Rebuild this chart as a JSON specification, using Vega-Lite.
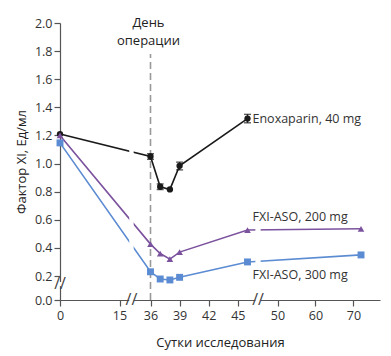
{
  "$schema": "https://vega.github.io/schema/vega-lite/v6.json",
  "width": 320,
  "height": 277,
  "autosize": "none",
  "padding": {"left": 60, "top": 23, "right": 11, "bottom": 56},
  "background": "white",
  "config": {
    "view": {"stroke": null},
    "font": "Open Sans",
    "axis": {
      "domainColor": "#555",
      "tickColor": "#555",
      "labelColor": "#333",
      "titleColor": "#222",
      "labelFontSize": 12.5,
      "titleFontSize": 13,
      "titleFontWeight": "normal",
      "grid": false,
      "tickSize": 6,
      "domainWidth": 1.2,
      "tickWidth": 1.2,
      "labelFlush": false
    }
  },
  "datasets": {
    "pts": [
      {"series": "Enoxaparin", "day": 0, "v": 1.21},
      {"series": "Enoxaparin", "day": 36, "v": 1.05, "lo": 1.03, "hi": 1.07},
      {"series": "Enoxaparin", "day": 37, "v": 0.835, "lo": 0.815, "hi": 0.855},
      {"series": "Enoxaparin", "day": 38, "v": 0.816},
      {"series": "Enoxaparin", "day": 39, "v": 0.984, "lo": 0.955, "hi": 1.01},
      {"series": "Enoxaparin", "day": 46, "v": 1.32, "lo": 1.29, "hi": 1.35},
      {"series": "FXI-ASO 200", "day": 0, "v": 1.2},
      {"series": "FXI-ASO 200", "day": 36, "v": 0.427},
      {"series": "FXI-ASO 200", "day": 37, "v": 0.36},
      {"series": "FXI-ASO 200", "day": 38, "v": 0.32},
      {"series": "FXI-ASO 200", "day": 39, "v": 0.37},
      {"series": "FXI-ASO 200", "day": 46, "v": 0.527},
      {"series": "FXI-ASO 200", "day": 72, "v": 0.536},
      {"series": "FXI-ASO 300", "day": 0, "v": 1.147},
      {"series": "FXI-ASO 300", "day": 36, "v": 0.23},
      {"series": "FXI-ASO 300", "day": 37, "v": 0.175},
      {"series": "FXI-ASO 300", "day": 38, "v": 0.167},
      {"series": "FXI-ASO 300", "day": 39, "v": 0.189},
      {"series": "FXI-ASO 300", "day": 46, "v": 0.3},
      {"series": "FXI-ASO 300", "day": 72, "v": 0.35}
    ]
  },
  "encoding": {
    "x": {
      "field": "day",
      "type": "quantitative",
      "scale": {"domain": [0, 15, 36, 46, 50, 77], "range": [0, 59.5, 90.5, 187.5, 217.5, 320], "nice": false, "zero": false},
      "axis": {"values": [0, 15, 36, 39, 42, 45, 50, 60, 70], "title": "Сутки исследования", "titlePadding": 15, "labelPadding": 3}
    },
    "y": {
      "field": "v",
      "type": "quantitative",
      "scale": {"domain": [0, 0.2, 2.0], "range": [277, 253, 0], "nice": false, "zero": false},
      "axis": {"values": [0, 0.2, 0.4, 0.6, 0.8, 1.0, 1.2, 1.4, 1.6, 1.8, 2.0], "format": ".1f", "title": "Фактор XI, Ед/мл", "titlePadding": 6, "labelPadding": 2}
    }
  },
  "layer": [
    {
      "data": {"values": [{"day": 36, "v": 0, "v2": 1.78}]},
      "mark": {"type": "rule", "strokeDash": [7, 4], "color": "#999", "strokeWidth": 1.6},
      "encoding": {"y2": {"field": "v2"}}
    },
    {
      "data": {"name": "pts"},
      "mark": {"type": "line", "strokeWidth": 1.6},
      "encoding": {
        "color": {"field": "series", "type": "nominal", "scale": {"domain": ["Enoxaparin", "FXI-ASO 200", "FXI-ASO 300"], "range": ["#1a1a1a", "#7b529e", "#5b8bd2"]}, "legend": null},
        "order": {"field": "day"}
      }
    },
    {
      "data": {"values": [
        {"day": 21.6, "day2": 24.6, "v": -0.03, "v2": 1.3},
        {"day": 47.05, "day2": 47.75, "v": -0.03, "v2": 0.6},
        {"day": -1.2, "day2": 1.2, "v": 0.115, "v2": 0.15}
      ]},
      "mark": {"type": "rect", "color": "white"},
      "encoding": {"x2": {"field": "day2"}, "y2": {"field": "v2"}}
    },
    {
      "data": {"values": [
        {"day": 23.1, "v": 0},
        {"day": 47.4, "v": 0},
        {"day": 0, "v": 0.133}
      ]},
      "mark": {"type": "text", "text": "//", "fontSize": 16, "color": "#444", "baseline": "middle", "align": "center"},
      "encoding": {}
    },
    {
      "data": {"name": "pts"},
      "transform": [{"filter": "isValid(datum.lo)"}],
      "layer": [
        {"mark": {"type": "rule", "color": "#1a1a1a", "strokeWidth": 1.4}, "encoding": {"y": {"field": "lo", "type": "quantitative"}, "y2": {"field": "hi"}}},
        {"mark": {"type": "tick", "orient": "horizontal", "color": "#1a1a1a", "size": 7, "thickness": 1.4}, "encoding": {"y": {"field": "lo", "type": "quantitative"}}},
        {"mark": {"type": "tick", "orient": "horizontal", "color": "#1a1a1a", "size": 7, "thickness": 1.4}, "encoding": {"y": {"field": "hi", "type": "quantitative"}}}
      ]
    },
    {
      "data": {"name": "pts"},
      "mark": {"type": "point", "filled": true, "opacity": 1},
      "encoding": {
        "color": {"field": "series", "type": "nominal", "scale": {"domain": ["Enoxaparin", "FXI-ASO 200", "FXI-ASO 300"], "range": ["#1a1a1a", "#7b529e", "#5b8bd2"]}, "legend": null},
        "shape": {"field": "series", "type": "nominal", "scale": {"domain": ["Enoxaparin", "FXI-ASO 200", "FXI-ASO 300"], "range": ["circle", "triangle-up", "square"]}, "legend": null},
        "size": {"field": "series", "type": "nominal", "scale": {"domain": ["Enoxaparin", "FXI-ASO 200", "FXI-ASO 300"], "range": [40, 48, 66]}, "legend": null}
      }
    },
    {
      "data": {"values": [
        {"label": "Enoxaparin, 40 mg", "day": 46, "v": 1.32},
        {"label": "FXI-ASO, 200 mg", "day": 46, "v": 0.62},
        {"label": "FXI-ASO, 300 mg", "day": 46, "v": 0.205}
      ]},
      "mark": {"type": "text", "align": "left", "baseline": "middle", "dx": 5, "fontSize": 12.5, "color": "#333"},
      "encoding": {"text": {"field": "label"}}
    },
    {
      "data": {"values": [
        {"label": "День", "day": 36, "v": 2.0},
        {"label": "операции", "day": 36, "v": 1.87}
      ]},
      "mark": {"type": "text", "align": "center", "baseline": "middle", "dx": -2, "fontSize": 13, "color": "#222"},
      "encoding": {"text": {"field": "label"}}
    }
  ]
}
